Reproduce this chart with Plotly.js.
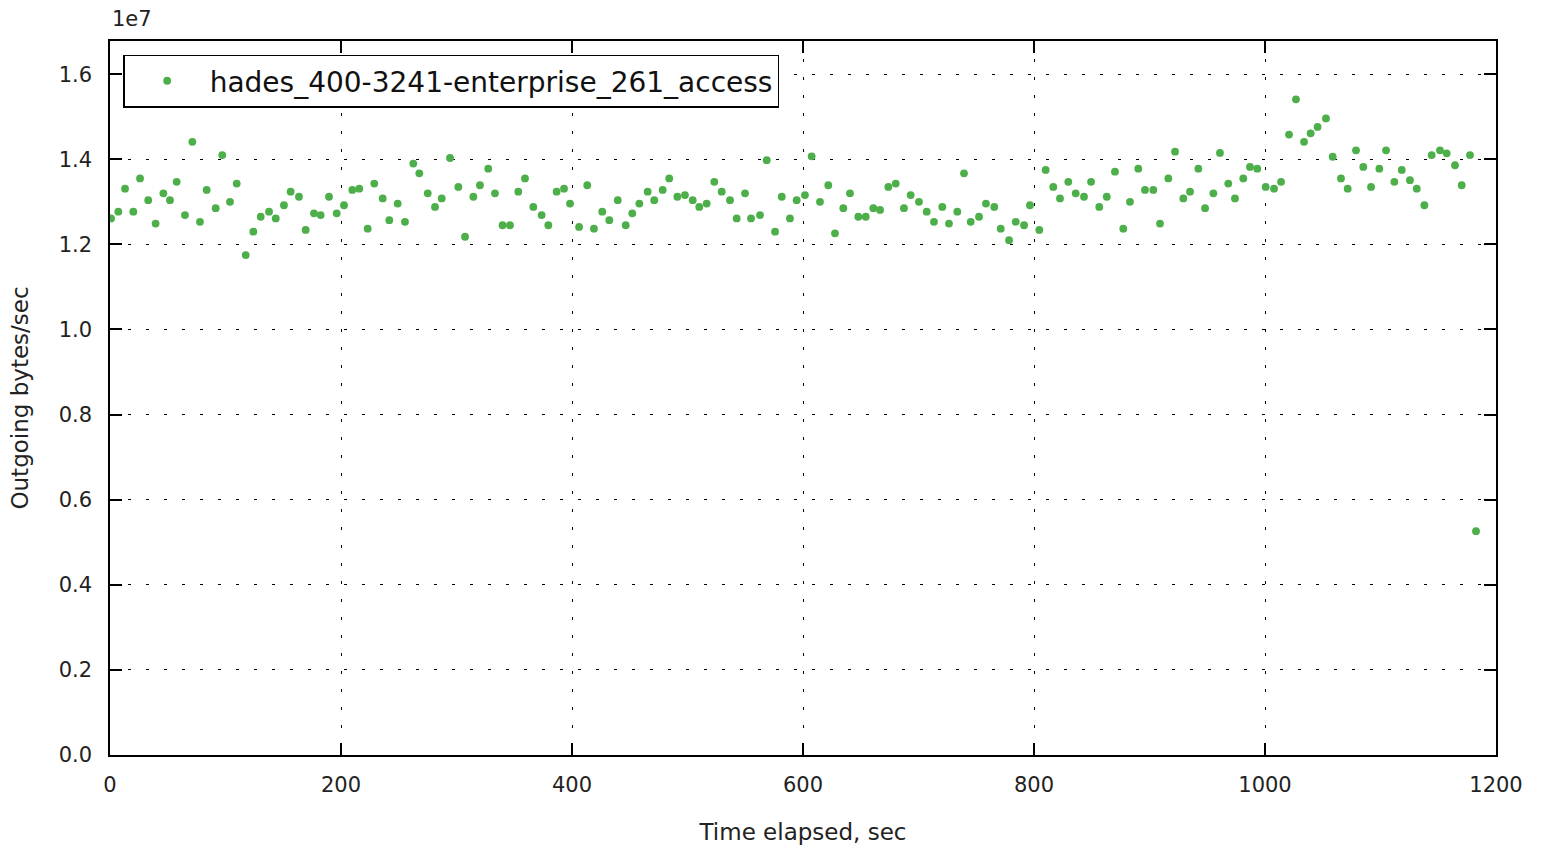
<!DOCTYPE html>
<html>
<head>
<meta charset="utf-8">
<script src="https://cdn.plot.ly/plotly-3.0.1.min.js"></script>
<style>html,body{margin:0;padding:0;background:#fff;}#chart{width:1544px;height:851px;}</style>
</head>
<body>
<div id="chart"></div>
<script>
// Series name
const seriesName = "hades_400-3241-enterprise_261_access";

// Time elapsed, sec
const timeSec = [0.9,7.2,13.0,20.2,26.0,33.1,39.5,46.2,51.9,57.7,64.9,71.3,77.9,83.7,91.5,97.2,103.9,109.7,117.5,124.1,130.5,137.7,143.5,150.6,156.4,163.6,169.4,176.6,182.4,189.6,196.3,
202.6,209.8,215.8,223.1,228.8,236.1,241.8,249.1,255.4,262.6,267.8,275.1,281.4,287.2,294.4,301.6,307.4,314.6,320.3,327.5,333.3,339.9,346.3,353.5,359.3,366.5,373.7,379.5,386.7,393.1,398.3,
406.1,413.2,419.0,426.2,432.3,439.6,446.5,452.2,458.3,465.5,471.2,478.5,484.2,491.2,497.8,504.5,510.2,516.6,523.2,529.6,536.8,542.6,549.8,555.0,562.8,568.6,575.8,581.6,588.7,594.5,
601.7,607.5,614.7,621.9,627.7,634.9,640.7,647.9,654.3,660.9,666.7,673.9,680.3,687.4,693.2,700.4,707.1,713.4,720.6,726.4,733.6,739.4,745.2,752.4,758.4,765.6,771.2,778.4,784.2,791.4,796.5,
804.6,810.1,816.7,822.5,829.7,836.1,843.3,849.4,856.5,863.0,870.1,877.3,883.1,890.3,896.1,903.3,909.1,916.3,922.1,929.3,935.1,942.3,948.1,955.3,961.0,968.2,974.0,981.2,987.0,993.3,
1000.6,1007.8,1013.9,1020.8,1026.8,1033.8,1039.5,1045.5,1052.8,1058.6,1065.8,1071.6,1078.8,1085.1,1091.8,1099.0,1104.8,1112.0,1118.4,1125.5,1131.4,1138.0,1144.3,1151.5,1157.3,1164.5,1170.3,1177.5,1182.7];

// Outgoing bytes/sec, in units of 1e7 (axis offset label "1e7")
const outgoing1e7 = [1.261,1.277,1.331,1.277,1.355,1.304,1.249,1.320,1.304,1.347,1.269,1.441,1.253,1.328,1.285,1.410,1.300,1.343,1.175,1.230,1.265,1.277,1.261,1.292,1.324,1.312,1.234,1.273,1.269,1.312,1.273,
1.292,1.328,1.331,1.237,1.343,1.308,1.257,1.296,1.253,1.390,1.367,1.320,1.288,1.308,1.403,1.335,1.218,1.312,1.339,1.378,1.320,1.245,1.245,1.324,1.355,1.288,1.269,1.245,1.324,1.331,1.296,
1.241,1.339,1.237,1.277,1.257,1.304,1.245,1.273,1.296,1.324,1.304,1.328,1.355,1.312,1.316,1.304,1.288,1.296,1.347,1.324,1.304,1.261,1.320,1.261,1.269,1.398,1.230,1.312,1.261,1.304,
1.316,1.407,1.300,1.339,1.226,1.285,1.320,1.265,1.265,1.285,1.281,1.335,1.343,1.285,1.316,1.300,1.277,1.253,1.288,1.249,1.277,1.367,1.253,1.265,1.296,1.288,1.237,1.210,1.253,1.245,1.292,
1.234,1.375,1.335,1.308,1.347,1.320,1.312,1.347,1.288,1.312,1.371,1.237,1.300,1.378,1.328,1.328,1.249,1.355,1.418,1.308,1.324,1.378,1.285,1.320,1.415,1.343,1.308,1.355,1.382,1.378,
1.335,1.331,1.347,1.458,1.541,1.441,1.461,1.476,1.496,1.406,1.355,1.331,1.421,1.382,1.335,1.378,1.421,1.347,1.375,1.351,1.331,1.292,1.410,1.421,1.414,1.386,1.339,1.410,0.526];

// Tick labels
const xTickVals = [0, 200, 400, 600, 800, 1000, 1200];
const yTickLabels = ["0.0","0.2","0.4","0.6","0.8","1.0","1.2","1.4","1.6"];
const yTickVals = yTickLabels.map(Number);

const FONT = "DejaVu Sans, sans-serif";
const gridDash = "3px,15px";

const trace = {
  type: "scatter",
  mode: "markers",
  name: seriesName,
  x: timeSec,
  y: outgoing1e7,
  marker: {color: "#4daf4a", size: 7.8, line: {width: 0}},
  showlegend: true
};

const axisCommon = {
  showline: true, linecolor: "#000", linewidth: 1.5, mirror: "allticks",
  ticks: "inside", ticklen: 12, tickwidth: 1.5, tickcolor: "#000",
  showgrid: true, gridcolor: "#000", gridwidth: 1.4, griddash: gridDash,
  zeroline: false,
  tickfont: {family: FONT, size: 21, color: "#222"}
};

const layout = {
  width: 1544, height: 851,
  margin: {l: 110, r: 48, t: 41, b: 96, pad: 0},
  paper_bgcolor: "#fff", plot_bgcolor: "#fff",
  font: {family: FONT, color: "#222"},
  xaxis: Object.assign({}, axisCommon, {
    range: [0, 1200], tickmode: "array", tickvals: xTickVals,
    ticklabelstandoff: 10,
    title: {text: "Time elapsed, sec", font: {family: FONT, size: 23, color: "#222"}, standoff: 28}
  }),
  yaxis: Object.assign({}, axisCommon, {
    range: [0, 1.678], tickmode: "array", tickvals: yTickVals, ticktext: yTickLabels,
    ticklabelstandoff: 12,
    title: {text: "Outgoing bytes/sec", font: {family: FONT, size: 23, color: "#222"}, standoff: 24}
  }),
  legend: {
    x: 0.0095, y: 0.981, xanchor: "left", yanchor: "top",
    bgcolor: "#fff", bordercolor: "#000", borderwidth: 1.5,
    font: {family: FONT, size: 28, color: "#111"},
    itemwidth: 75
  },
  annotations: [{
    xref: "paper", yref: "paper", x: 0, y: 1, xanchor: "left", yanchor: "bottom",
    yshift: 8, text: "1e7", showarrow: false,
    font: {family: FONT, size: 21, color: "#222"}
  }]
};

Plotly.newPlot("chart", [trace], layout, {displayModeBar: false, responsive: false});
</script>
</body>
</html>
